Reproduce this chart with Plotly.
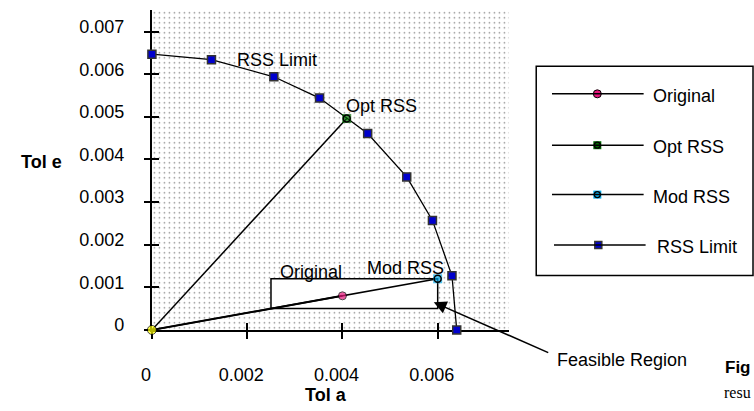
import plotly.graph_objects as go

W, H = 754, 411

# ---- data ----
rss_limit_x = [0.0, 0.00125, 0.00256, 0.00352, 0.00453, 0.00535, 0.00589, 0.00630, 0.00640]
rss_limit_y = [0.00647, 0.00634, 0.00594, 0.00544, 0.00461, 0.00359, 0.00257, 0.00127, 0.0]
opt_rss_x = [0.0, 0.00409]
opt_rss_y = [0.0, 0.00496]
mod_rss_x = [0.0, 0.006]
mod_rss_y = [0.0, 0.0012]
original_x = [0.0, 0.004]
original_y = [0.0, 0.0008]
x_ticks = [0, 0.002, 0.004, 0.006]
x_tick_text = ["0", "0.002", "0.004", "0.006"]
y_ticks = [0, 0.001, 0.002, 0.003, 0.004, 0.005, 0.006, 0.007]
y_tick_text = ["0", "0.001", "0.002", "0.003", "0.004", "0.005", "0.006", "0.007"]
series_names = ["Original", "Opt RSS", "Mod RSS", "RSS Limit"]

# ---- layout constants (pixels) ----
X0PX, X1PX = 143, 505.5
Y0PX, Y1PX = 334, 10.4
AX_MAX = 0.0075
FONT = "Liberation Sans, Arial, sans-serif"
FS = 18

def px(x):
    return x / W

def py(y):
    return 1 - y / H

C_RSS = "#0000cd"
C_OPT = "#006a00"
C_MOD = "#00a8e8"
C_ORIG = "#e8177d"

fig = go.Figure()

# dotted background over plot area
fig.add_trace(go.Scatter(
    x=[0, AX_MAX, AX_MAX, 0, 0], y=[0, 0, AX_MAX, AX_MAX, 0],
    fill="toself", mode="lines", line=dict(width=0),
    fillcolor="white",
    fillpattern=dict(shape=".", size=5, solidity=0.09, fgcolor="#111111", bgcolor="white"),
    hoverinfo="skip", showlegend=False))

# white "Original" box
bx0, bx1, by0, by1 = 0.0025, 0.006, 0.0005, 0.0012
fig.add_trace(go.Scatter(
    x=[bx0, bx1, bx1, bx0, bx0], y=[by0, by0, by1, by1, by0],
    fill="toself", fillcolor="white", mode="lines",
    line=dict(color="black", width=1.5),
    hoverinfo="skip", showlegend=False))

# RSS Limit
fig.add_trace(go.Scatter(
    x=rss_limit_x, y=rss_limit_y, mode="lines+markers", name="RSS Limit",
    line=dict(color="black", width=1.3), cliponaxis=False,
    marker=dict(symbol="square", size=8, color=C_RSS, line=dict(color="#333", width=1.5)),
    showlegend=False))

# Opt RSS
fig.add_trace(go.Scatter(
    x=opt_rss_x, y=opt_rss_y, mode="lines+markers", name="Opt RSS",
    line=dict(color="black", width=1.5), cliponaxis=False,
    marker=dict(symbol="square", size=[0, 9], color=C_OPT, line=dict(width=0)),
    showlegend=False))
fig.add_trace(go.Scatter(
    x=opt_rss_x[1:], y=opt_rss_y[1:], mode="markers",
    marker=dict(symbol="circle-open", size=7, color="black", line=dict(width=1.5)),
    hoverinfo="skip", showlegend=False))

# Mod RSS
fig.add_trace(go.Scatter(
    x=mod_rss_x, y=mod_rss_y, mode="lines+markers", name="Mod RSS",
    line=dict(color="black", width=1.6), cliponaxis=False,
    marker=dict(symbol="square", size=[0, 9], color=C_MOD, line=dict(width=0)),
    showlegend=False))
fig.add_trace(go.Scatter(
    x=mod_rss_x[1:], y=mod_rss_y[1:], mode="markers",
    marker=dict(symbol="circle-open", size=7, color="black", line=dict(width=1.5)),
    hoverinfo="skip", showlegend=False))

# Original
fig.add_trace(go.Scatter(
    x=original_x, y=original_y, mode="lines+markers", name="Original",
    line=dict(color="black", width=2), cliponaxis=False,
    marker=dict(symbol="circle", size=[9, 8], color=["#ffff00", C_ORIG],
                line=dict(color="black", width=1)),
    showlegend=False))

# overlay axes for inner half of crossing ticks
fig.add_trace(go.Scatter(x=[0], y=[0], mode="markers", marker=dict(opacity=0),
                         xaxis="x3", yaxis="y3", hoverinfo="skip", showlegend=False))

# ---- custom legend (pixel subplot) ----
leg_y = [95, 147, 197, 248]
leg_line_x = [(549, 642), (549, 642), (549, 642), (551, 644)]
leg_mark_x = [595, 595, 595, 596]
leg_text_x = [649, 649, 649, 654]

shapes = []
shapes.append(dict(type="rect", xref="paper", yref="paper",
                   x0=px(533), x1=px(753), y0=py(279), y1=py(67),
                   line=dict(color="black", width=1.5), fillcolor="rgba(0,0,0,0)"))
for (lx0, lx1), ly in zip(leg_line_x, leg_y):
    shapes.append(dict(type="line", xref="paper", yref="paper",
                       x0=px(lx0), x1=px(lx1), y0=py(ly), y1=py(ly),
                       line=dict(color="black", width=1.5)))

fig.add_trace(go.Scatter(x=[leg_mark_x[0]], y=[leg_y[0]], mode="markers", xaxis="x2", yaxis="y2",
                         marker=dict(symbol="circle", size=8, color=C_ORIG, line=dict(color="black", width=1)),
                         hoverinfo="skip", showlegend=False))
fig.add_trace(go.Scatter(x=leg_mark_x[1:3], y=leg_y[1:3], mode="markers", xaxis="x2", yaxis="y2",
                         marker=dict(symbol="square", size=8, color=[C_OPT, C_MOD], line=dict(width=0)),
                         hoverinfo="skip", showlegend=False))
fig.add_trace(go.Scatter(x=leg_mark_x[1:3], y=leg_y[1:3], mode="markers", xaxis="x2", yaxis="y2",
                         marker=dict(symbol="circle-open", size=6, color="black", line=dict(width=1.3)),
                         hoverinfo="skip", showlegend=False))
fig.add_trace(go.Scatter(x=[leg_mark_x[3]], y=[leg_y[3]], mode="markers", xaxis="x2", yaxis="y2",
                         marker=dict(symbol="square", size=7, color=C_RSS, line=dict(color="#333", width=1.5)),
                         hoverinfo="skip", showlegend=False))

annotations = []
for name, tx, ly in zip(series_names, leg_text_x, leg_y):
    annotations.append(dict(text=name, xref="paper", yref="paper", x=px(tx), y=py(ly + 2),
                            xanchor="left", yanchor="middle", showarrow=False,
                            font=dict(family=FONT, size=FS, color="black")))

# in-chart labels
def label(text, cx, cy, anchor="center"):
    annotations.append(dict(text=text, xref="paper", yref="paper", x=px(cx), y=py(cy),
                            xanchor=anchor, yanchor="middle", showarrow=False,
                            font=dict(family=FONT, size=FS, color="black")))

label("RSS Limit", 270, 61)
label("Opt RSS", 376, 107)
label("Original", 304, 275)
label("Mod RSS", 400, 271)
label("Feasible Region", 552, 364, "left")

# axis titles
annotations.append(dict(text="<b>Tol e</b>", xref="paper", yref="paper", x=px(31), y=py(164),
                        xanchor="center", yanchor="middle", showarrow=False,
                        font=dict(family=FONT, size=FS, color="black")))
annotations.append(dict(text="<b>Tol a</b>", xref="paper", yref="paper", x=px(320), y=py(400),
                        xanchor="center", yanchor="middle", showarrow=False,
                        font=dict(family=FONT, size=FS, color="black")))

# arrow to feasible region
annotations.append(dict(text="", xref="paper", yref="paper", x=px(429), y=py(306),
                        ax=545 - 429, ay=357 - 306, showarrow=True,
                        arrowhead=2, arrowsize=1.6, arrowwidth=1.6, arrowcolor="black"))

# cropped document text at bottom right
annotations.append(dict(text="<b>Fig</b>", xref="paper", yref="paper", x=px(751), y=py(372),
                        xanchor="right", yanchor="middle", showarrow=False, borderpad=0, borderwidth=0,
                        font=dict(family=FONT, size=17, color="black")))
annotations.append(dict(text="resu", xref="paper", yref="paper", x=px(751), y=py(397),
                        xanchor="right", yanchor="middle", showarrow=False, borderpad=0, borderwidth=0,
                        font=dict(family="Liberation Serif, Times New Roman, serif", size=16, color="black")))

common_axis = dict(showgrid=False, zeroline=False)

fig.update_layout(
    width=W, height=H,
    margin=dict(l=0, r=0, t=0, b=0),
    paper_bgcolor="white", plot_bgcolor="rgba(0,0,0,0)",
    showlegend=False,
    font=dict(family=FONT, size=FS, color="black"),
    xaxis=dict(domain=[px(X0PX), px(X1PX)], range=[0, AX_MAX], anchor="y",
               tickmode="array", tickvals=x_ticks, ticktext=x_tick_text,
               ticks="outside", ticklen=7, tickwidth=1.5, tickcolor="black",
               showline=True, linewidth=2, linecolor="black", layer="below traces",
               tickfont=dict(family=FONT, size=FS), ticklabelstandoff=20, ticklabelshift=-6,
               **common_axis),
    yaxis=dict(domain=[py(Y0PX), py(Y1PX)], range=[0, AX_MAX], anchor="x",
               tickmode="array", tickvals=y_ticks, ticktext=y_tick_text,
               ticks="outside", ticklen=6, tickwidth=1.5, tickcolor="black",
               showline=True, linewidth=2, linecolor="black", layer="below traces",
               tickfont=dict(family=FONT, size=FS), ticklabelstandoff=16, ticklabelshift=-5,
               **common_axis),
    xaxis3=dict(overlaying="x", anchor="y3", range=[0, AX_MAX],
                tickmode="array", tickvals=x_ticks[1:], ticks="inside", ticklen=7, tickwidth=1.5,
                tickcolor="black", showticklabels=False, showline=False, **common_axis),
    yaxis3=dict(overlaying="y", anchor="x3", range=[0, AX_MAX],
                tickmode="array", tickvals=y_ticks[1:], ticks="inside", ticklen=7, tickwidth=1.5,
                tickcolor="black", showticklabels=False, showline=False, **common_axis),
    xaxis2=dict(domain=[0, 1], range=[0, W], anchor="y2", visible=False, fixedrange=True),
    yaxis2=dict(domain=[0, 1], range=[H, 0], anchor="x2", visible=False, fixedrange=True),
    shapes=shapes,
    annotations=annotations,
)

fig.write_html(
    "out.html",
    config={"displayModeBar": False},
    post_script="document.body.style.margin='0';document.body.style.padding='0';"
                "document.documentElement.style.overflow='hidden';document.body.style.overflow='hidden';",
)
